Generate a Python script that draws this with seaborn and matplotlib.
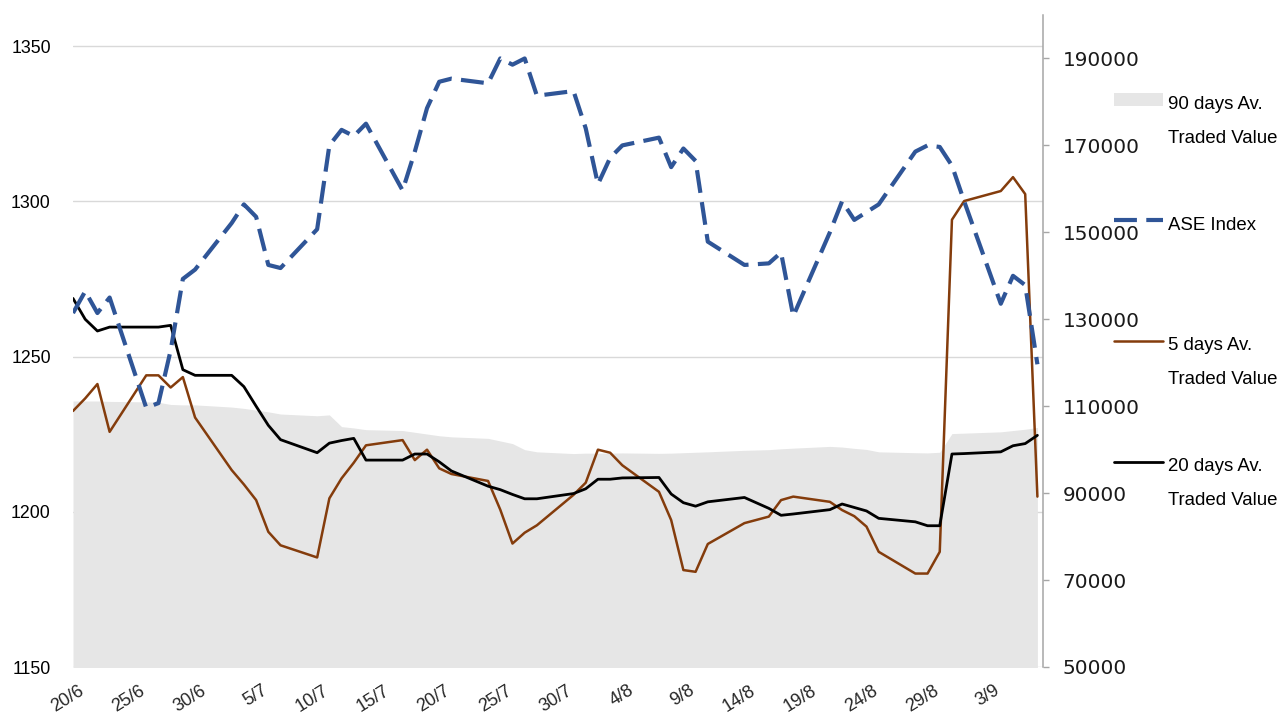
import numpy as np
import pandas as pd
import matplotlib
matplotlib.use("Agg")
import matplotlib.pyplot as plt
import seaborn as sns
from matplotlib import font_manager as fm
from matplotlib.lines import Line2D
from matplotlib.patches import Patch
from matplotlib.legend_handler import HandlerLine2D, HandlerPatch
from matplotlib.transforms import ScaledTranslation

# ---------------- data ----------------
YEAR = 2023
trade_days = ["20/6", "21/6", "22/6", "23/6", "26/6", "27/6", "28/6", "29/6", "30/6",
              "3/7", "4/7", "5/7", "6/7", "7/7", "10/7", "11/7", "12/7", "13/7", "14/7",
              "17/7", "18/7", "19/7", "20/7", "21/7", "24/7", "25/7", "26/7", "27/7", "28/7",
              "31/7", "1/8", "2/8", "3/8", "4/8", "7/8", "8/8", "9/8", "10/8", "11/8",
              "14/8", "16/8", "17/8", "18/8", "21/8", "22/8", "23/8", "24/8", "25/8",
              "28/8", "29/8", "30/8", "31/8", "1/9", "4/9", "5/9", "6/9", "7/9"]

ase_index = [1264, 1271, 1264, 1269, 1233.5, 1235, 1252, 1275, 1278,
             1293, 1299, 1295, 1279.5, 1278.5, 1291, 1318, 1323, 1321, 1325,
             1303.5, 1316, 1330, 1338.5, 1339.5, 1338, 1346, 1344, 1346, 1334,
             1335.5, 1323.5, 1305.5, 1314, 1318, 1320.5, 1311, 1317, 1313, 1287,
             1279.5, 1280, 1283.5, 1263, 1290, 1300, 1294, 1296.5, 1299,
             1316, 1318, 1317.5, 1311.5, 1300, 1267, 1276, 1273, 1247.5]

av90_traded = [111200, 111200, 111200, 111100, 111000, 110900, 110400, 110300, 110300,
               109800, 109500, 109100, 108700, 108200, 107800, 108000, 105300, 105000, 104600,
               104400, 104000, 103600, 103200, 102950, 102600, 102000, 101400, 100000, 99500,
               99100, 99200, 99200, 99200, 99250, 99150, 99200, 99300, 99400, 99500,
               99850, 100000, 100200, 100350, 100750, 100600, 100300, 100050, 99500,
               99300, 99250, 99400, 103700, 103800, 104100, 104400, 104700, 105100]

av5_traded = [108900, 111800, 115100, 104100, 117100, 117100, 114300, 116700, 107400,
              95300, 92000, 88400, 81100, 78000, 75200, 88800, 93400, 97000, 101000,
              102200, 97600, 100000, 95700, 94400, 92800, 86200, 78400, 80900, 82600,
              89600, 92400, 100000, 99300, 96400, 90300, 83800, 72300, 71900, 78300,
              83100, 84600, 88400, 89200, 88000, 86100, 84700, 82300, 76500,
              71500, 71500, 76500, 152900, 157200, 159500, 162700, 158800, 89200]

av20_traded = [134800, 130000, 127300, 128200, 128200, 128200, 128600, 118400, 117100,
               117100, 114500, 110000, 105600, 102300, 99300, 101500, 102100, 102600, 97600,
               97600, 99000, 99000, 97200, 95100, 91600, 90800, 89700, 88700, 88700,
               89900, 91000, 93200, 93200, 93500, 93600, 89800, 87800, 87000, 88000,
               89000, 86500, 84900, 85200, 86200, 87500, 86700, 85900, 84200,
               83400, 82500, 82500, 99000, 99100, 99500, 100900, 101400, 103300]

x_tick_labels = ["20/6", "25/6", "30/6", "5/7", "10/7", "15/7", "20/7", "25/7",
                 "30/7", "4/8", "9/8", "14/8", "19/8", "24/8", "29/8", "3/9"]
left_ticks = [1150, 1200, 1250, 1300, 1350]
right_ticks = [50000, 70000, 90000, 110000, 130000, 150000, 170000, 190000]
legend_labels = ["90 days Av.\nTraded Value", "ASE Index\n ",
                 "5 days Av.\nTraded Value", "20 days Av.\nTraded Value"]

# ---------------- style ----------------
sns.set_theme(style="white")
avail = {f.name for f in fm.fontManager.ttflist}
NARROW = "Liberation Sans Narrow" if "Liberation Sans Narrow" in avail else "Liberation Sans"
K = 1.0 if NARROW == "Liberation Sans Narrow" else 0.84
plt.rcParams["font.family"] = [NARROW, "DejaVu Sans"]

C_ASE = "#2F5597"
C_5 = "#843C0C"
C_20 = "#000000"
C_90 = "#E6E6E6"
C_GRID = "#D9D9D9"
C_AX = "#A6A6A6"
ASE_DASH = (0, (5.5, 2.25))


def to_date(s):
    d, m = s.split("/")
    return pd.Timestamp(year=YEAR, month=int(m), day=int(d))


df = pd.DataFrame({
    "date": [to_date(s) for s in trade_days],
    "ase": ase_index,
    "av90": av90_traded,
    "av5": av5_traded,
    "av20": av20_traded,
})
tick_dates = [to_date(s) for s in x_tick_labels]

W, H = 1288, 721
fig = plt.figure(figsize=(W / 100, H / 100), dpi=100)
fig.patch.set_facecolor("white")
L, R, T, B = 73, 1043, 15, 667
ax = fig.add_axes([L / W, 1 - B / H, (R - L) / W, (B - T) / H])
ax2 = ax.twinx()   # traded values (right axis)
ax3 = ax.twinx()   # ASE index line on top

# area + traded value lines
ax2.fill_between(df["date"], df["av90"], 0, color=C_90, lw=0)
sns.lineplot(data=df, x="date", y="av5", ax=ax2, color=C_5, lw=1.8)
sns.lineplot(data=df, x="date", y="av20", ax=ax2, color=C_20, lw=2.0)
# ASE index
sns.lineplot(data=df, x="date", y="ase", ax=ax3, color=C_ASE, lw=3.0,
             linestyle=ASE_DASH)

# ---------------- axes ----------------
ylim_left = (1150, 1360)
ax.set_ylim(*ylim_left)
ax3.set_ylim(*ylim_left)
ax2.set_ylim(50000, 200000)

ax.set_xlim(df["date"].iloc[0], df["date"].iloc[-1] + pd.Timedelta(hours=11))

for a in (ax, ax2, ax3):
    for sp in a.spines.values():
        sp.set_visible(False)
    a.set_xlabel("")
    a.set_ylabel("")

ax.set_yticks(left_ticks)
ax.set_yticklabels([str(v) for v in left_ticks])
ax.tick_params(axis="y", left=False, length=0, pad=16, labelsize=15.2 * K,
               labelcolor="#000000")
ax.yaxis.grid(True, color=C_GRID, lw=1.0)
ax.xaxis.grid(False)

ax2.spines["right"].set_visible(True)
ax2.spines["right"].set_color(C_AX)
ax2.spines["right"].set_linewidth(1.1)
ax2.set_yticks(right_ticks)
ax2.set_yticklabels([str(v) for v in right_ticks])
ax2.tick_params(axis="y", right=True, length=4.3, width=1.0, color=C_AX,
                direction="out", pad=10, labelsize=14.4, labelcolor="#1a1a1a")
for lbl in ax2.get_yticklabels():
    lbl.set_fontfamily("DejaVu Sans")
ax2.grid(False)

ax3.set_yticks([])
ax3.grid(False)
ax3.axis("off")

ax.set_xticks(tick_dates)
ax.set_xticklabels(x_tick_labels, rotation=32, ha="right", va="center",
                   rotation_mode="anchor", fontsize=15.5 * K)
ax.tick_params(axis="x", bottom=False, length=0, pad=16)
off = ScaledTranslation(7 / 72, 0, fig.dpi_scale_trans)
for lbl in ax.get_xticklabels():
    lbl.set_transform(lbl.get_transform() + off)

# ---------------- legend ----------------
SHIFT = 15.5  # points: align handle with first text line


def up_line(legend_handle, orig_handle):
    legend_handle.update_from(orig_handle)
    legend_handle.set_ydata(np.asarray(legend_handle.get_ydata()) + SHIFT)


def up_patch(legend_handle, orig_handle):
    legend_handle.update_from(orig_handle)
    legend_handle.set_y(legend_handle.get_y() + SHIFT)


handles = [
    Patch(facecolor=C_90, edgecolor="none"),
    Line2D([], [], color=C_ASE, lw=3.0, linestyle=ASE_DASH),
    Line2D([], [], color=C_5, lw=1.8),
    Line2D([], [], color=C_20, lw=2.0),
]
leg = fig.legend(handles, legend_labels, loc="upper left",
                 bbox_to_anchor=(1114 / W, 1 - 96 / H), frameon=False,
                 fontsize=16 * K, handlelength=2.63, handletextpad=0.27,
                 labelspacing=3.76, borderpad=0, borderaxespad=0,
                 handler_map={Line2D: HandlerLine2D(update_func=up_line),
                              Patch: HandlerPatch(update_func=up_patch)})
for t in leg.get_texts():
    t.set_linespacing(2.27)
    t.set_color("#000000")

fig.savefig("out.png", dpi=100, facecolor="white")
